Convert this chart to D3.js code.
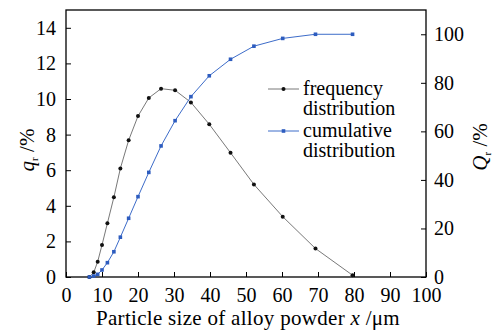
<!DOCTYPE html>
<html>
<head>
<meta charset="utf-8">
<script src="https://cdn.jsdelivr.net/npm/d3@7"></script>
<style>
  body { margin: 0; background: #fff; }
  svg text { font-family: "Times New Roman", "Liberation Serif", Tinos, "DejaVu Serif", serif; fill: #000; }
</style>
</head>
<body>
<svg id="svg" width="502" height="330"></svg>
<script>
// particle size (um)
const sizes = [6.5, 7.7, 8.8, 10, 11.5, 13.3, 15.1, 17.4, 20, 23, 26.4, 30.3, 34.7, 39.8, 45.7, 52.2, 60.2, 69.3, 79.6];
// frequency distribution q_r (%)
const freq = [0, 0.26, 0.86, 1.8, 3.02, 4.48, 6.1, 7.68, 9.04, 10.06, 10.58, 10.49, 9.81, 8.58, 6.98, 5.2, 3.39, 1.6, 0.1];
// cumulative distribution Q_r (%)
const cum = [0, 0.4, 1.1, 2.9, 5.9, 10.4, 16.4, 24.2, 33.1, 43.1, 54, 64.4, 74.3, 82.9, 89.7, 95.1, 98.3, 100, 100];

const xTicks = [0, 10, 20, 30, 40, 50, 60, 70, 80, 90, 100];
const leftTicks = [0, 2, 4, 6, 8, 10, 12, 14];
const rightTicks = [0, 20, 40, 60, 80, 100];
const legendNames = [["frequency", "distribution"], ["cumulative", "distribution"]];

const svg = d3.select("#svg");
const padding = { left: 66, right: 76, top: 10, bottom: 53 };
const width = 502 - padding.left - padding.right;
const height = 330 - padding.top - padding.bottom;

const g = svg.append("g").attr("transform", "translate(" + padding.left + "," + padding.top + ")");

const x = d3.scaleLinear().domain([0, 100]).range([0, width]);
const yL = d3.scaleLinear().domain([0, 15]).range([height, 0]);
const yR = d3.scaleLinear().domain([0, 110]).range([height, 0]);

const fontSize = 20;

// axes with inward ticks
const xAxis = g.append("g").attr("transform", "translate(0," + height + ")")
  .call(d3.axisBottom(x).tickValues(xTicks).tickSizeInner(-5).tickSizeOuter(0).tickPadding(11));
const lAxis = g.append("g")
  .call(d3.axisLeft(yL).tickValues(leftTicks).tickSizeInner(-5).tickSizeOuter(0).tickPadding(10));
const rAxis = g.append("g").attr("transform", "translate(" + width + ",0)")
  .call(d3.axisRight(yR).tickValues(rightTicks).tickSizeInner(-5).tickSizeOuter(0).tickPadding(8));

[xAxis, lAxis, rAxis].forEach(a => {
  a.select(".domain").remove();
  a.attr("font-family", null);
  a.selectAll("line").attr("stroke", "#000").attr("stroke-width", 1);
  a.selectAll("text").attr("font-size", fontSize).attr("fill", "#000");
});

// frame
g.append("rect").attr("width", width).attr("height", height)
  .attr("fill", "none").attr("stroke", "#000").attr("stroke-width", 1.3);

// frequency line
const lineF = d3.line().x((d, i) => x(sizes[i])).y(d => yL(d));
g.append("path").datum(freq).attr("d", lineF)
  .attr("fill", "none").attr("stroke", "#555").attr("stroke-width", 0.8);
g.selectAll(".fdot").data(freq).enter().append("circle")
  .attr("cx", (d, i) => x(sizes[i])).attr("cy", d => yL(d)).attr("r", 2)
  .attr("fill", "#111");

// cumulative line
const lineC = d3.line().x((d, i) => x(sizes[i])).y(d => yR(d));
g.append("path").datum(cum).attr("d", lineC)
  .attr("fill", "none").attr("stroke", "#3d6cc9").attr("stroke-width", 1);
g.selectAll(".cdot").data(cum).enter().append("rect")
  .attr("x", (d, i) => x(sizes[i]) - 1.8).attr("y", d => yR(d) - 1.8)
  .attr("width", 3.6).attr("height", 3.6).attr("fill", "#2d5cbf");

// legend
const legend = svg.append("g").attr("transform", "translate(268,0)");
const legColors = ["#555", "#3d6cc9"];
const legY = [89, 131];
legendNames.forEach((names, i) => {
  const row = legend.append("g").attr("transform", "translate(0," + legY[i] + ")");
  row.append("line").attr("x1", 0).attr("x2", 31).attr("y1", 0).attr("y2", 0)
    .attr("stroke", legColors[i]).attr("stroke-width", i ? 1 : 0.8);
  if (i === 0) {
    row.append("circle").attr("cx", 15.5).attr("cy", 0).attr("r", 2).attr("fill", "#111");
  } else {
    row.append("rect").attr("x", 13.7).attr("y", -1.8).attr("width", 3.6).attr("height", 3.6).attr("fill", "#2d5cbf");
  }
  names.forEach((n, j) => {
    row.append("text").attr("x", 35).attr("y", 6 + j * 20).attr("font-size", fontSize).text(n);
  });
});

// x title
const xt = svg.append("text").attr("x", 248).attr("y", 325).attr("text-anchor", "middle")
  .attr("font-size", 21).attr("letter-spacing", 0.3);
xt.append("tspan").text("Particle size of alloy powder ");
xt.append("tspan").attr("font-style", "italic").text("x");
xt.append("tspan").text(" /μm");

// left title
const lt = svg.append("text").attr("transform", "translate(34,150) rotate(-90)")
  .attr("text-anchor", "middle").attr("font-size", fontSize + 1);
lt.append("tspan").attr("font-style", "italic").text("q");
lt.append("tspan").attr("font-size", 11).attr("dy", 4).text("r");
lt.append("tspan").attr("dy", -4).text(" /%");

// right title
const rt = svg.append("text").attr("transform", "translate(487,147) rotate(-90)")
  .attr("text-anchor", "middle").attr("font-size", fontSize + 1);
rt.append("tspan").attr("font-style", "italic").text("Q");
rt.append("tspan").attr("font-size", 11).attr("dy", 4).text("r");
rt.append("tspan").attr("dy", -4).text(" /%");
</script>
</body>
</html>
